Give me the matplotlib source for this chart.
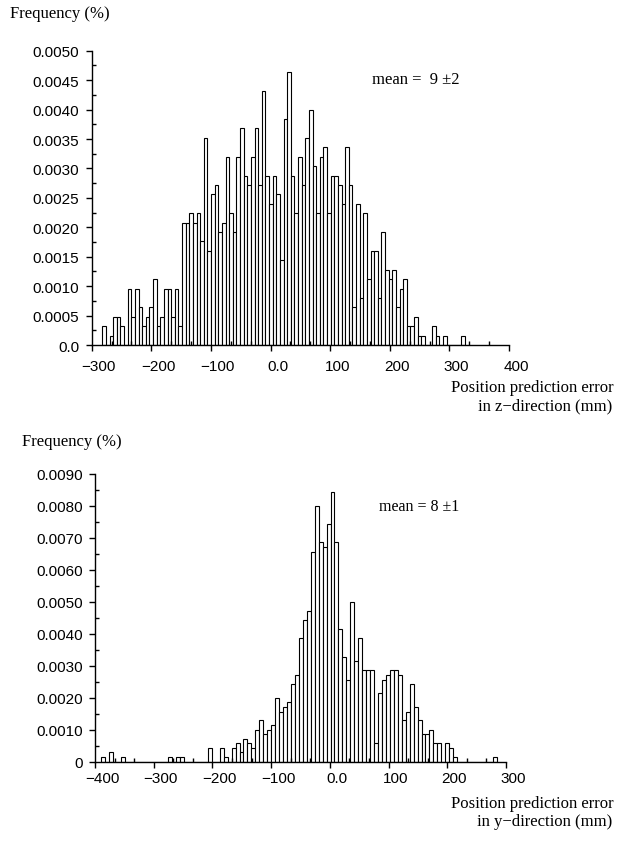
import numpy as np
import matplotlib
matplotlib.use('Agg')
import matplotlib.pyplot as plt
import matplotlib.transforms as mtransforms
from matplotlib.ticker import MultipleLocator

# z-direction error histogram: 100 bins between the min and max error (mm)
z_min, z_max = -282.2, 325.8
z_freq = [
    0.00032, 0.0, 0.00016, 0.00048, 0.00048, 0.00032, 0.0, 0.00096, 0.00048, 0.00096,
    0.00064, 0.00032, 0.00048, 0.00064, 0.00112, 0.00032, 0.00048, 0.00096, 0.00096, 0.00048,
    0.00096, 0.00032, 0.00208, 0.00208, 0.00224, 0.00208, 0.00224, 0.00176, 0.00352, 0.00160,
    0.00256, 0.00272, 0.00192, 0.00208, 0.00320, 0.00224, 0.00192, 0.00320, 0.00368, 0.00288,
    0.00272, 0.00320, 0.00368, 0.00272, 0.00432, 0.00288, 0.00240, 0.00288, 0.00256, 0.00144,
    0.00384, 0.00464, 0.00288, 0.00224, 0.00320, 0.00272, 0.00352, 0.00400, 0.00304, 0.00224,
    0.00320, 0.00336, 0.00224, 0.00288, 0.00288, 0.00272, 0.00240, 0.00336, 0.00272, 0.00064,
    0.00240, 0.00080, 0.00224, 0.00112, 0.00160, 0.00160, 0.00080, 0.00192, 0.00128, 0.00112,
    0.00128, 0.00064, 0.00096, 0.00112, 0.00032, 0.00032, 0.00048, 0.00016, 0.00016, 0.0,
    0.0, 0.00032, 0.00016, 0.0, 0.00016, 0.0, 0.0, 0.0, 0.0, 0.00016,
]

# y-direction error histogram
y_min, y_max = -389.8, 284.2
y_freq = [
    0.00014, 0.0, 0.00029, 0.0, 0.0, 0.00014, 0.0, 0.0, 0.0, 0.0,
    0.0, 0.0, 0.0, 0.0, 0.0, 0.0, 0.0, 0.00014, 0.0, 0.00014,
    0.00014, 0.0, 0.0, 0.0, 0.0, 0.0, 0.0, 0.00043, 0.0, 0.0,
    0.00043, 0.00014, 0.0, 0.00043, 0.00057, 0.00029, 0.00071, 0.00057, 0.00043, 0.00100,
    0.00129, 0.00086, 0.00100, 0.00114, 0.00200, 0.00157, 0.00171, 0.00186, 0.00243, 0.00271,
    0.00386, 0.00443, 0.00471, 0.00657, 0.00800, 0.00686, 0.00671, 0.00743, 0.00843, 0.00686,
    0.00414, 0.00329, 0.00257, 0.00500, 0.00314, 0.00386, 0.00286, 0.00286, 0.00286, 0.00057,
    0.00214, 0.00257, 0.00271, 0.00286, 0.00286, 0.00271, 0.00129, 0.00157, 0.00243, 0.00171,
    0.00129, 0.00086, 0.00086, 0.00100, 0.00057, 0.00057, 0.0, 0.00057, 0.00043, 0.00014,
    0.0, 0.0, 0.0, 0.0, 0.0, 0.0, 0.0, 0.0, 0.0, 0.00014,
]

z_xticks = [-300, -200, -100, 0, 100, 200, 300, 400]
z_xlabels = ['\u2212300', '\u2212200', '\u2212100', '0.0', '100', '200', '300', '400']
z_yticks = [0.0, 0.0005, 0.0010, 0.0015, 0.0020, 0.0025, 0.0030, 0.0035, 0.0040, 0.0045, 0.0050]
z_ylabels = ['0.0', '0.0005', '0.0010', '0.0015', '0.0020', '0.0025', '0.0030', '0.0035',
             '0.0040', '0.0045', '0.0050']

y_xticks = [-400, -300, -200, -100, 0, 100, 200, 300]
y_xlabels = ['\u2212400', '\u2212300', '\u2212200', '\u2212100', '0.0', '100', '200', '300']
y_yticks = [0.0, 0.0010, 0.0020, 0.0030, 0.0040, 0.0050, 0.0060, 0.0070, 0.0080, 0.0090]
y_ylabels = ['0', '0.0010', '0.0020', '0.0030', '0.0040', '0.0050', '0.0060', '0.0070',
             '0.0080', '0.0090']

SERIF = 'Liberation Serif'
SANS = 'Liberation Sans'


def draw_hist(ax, lo, hi, freq, xticks, xlabels, yticks, ylabels, yminor, xpad):
    edges = np.linspace(lo, hi, len(freq) + 1)
    ax.bar(edges[:-1], freq, width=edges[1] - edges[0], align='edge',
           facecolor='white', edgecolor='black', linewidth=0.8)

    ax.set_xlim(xticks[0], xticks[-1])
    ax.set_ylim(yticks[0], yticks[-1])
    for side in ('top', 'right'):
        ax.spines[side].set_visible(False)
    for side in ('left', 'bottom'):
        ax.spines[side].set_linewidth(1.0)

    ax.set_xticks(xticks)
    ax.set_xticklabels(xlabels, fontfamily=SANS, fontsize=11)
    ax.xaxis.set_minor_locator(MultipleLocator((xticks[1] - xticks[0]) / 3))
    ax.set_yticks(yticks)
    ax.set_yticklabels(ylabels, fontfamily=SANS, fontsize=11)
    ax.yaxis.set_minor_locator(MultipleLocator(yminor))

    ax.tick_params(which='major', direction='out', length=4, width=1.0, pad=5)
    ax.tick_params(axis='x', which='major', pad=xpad)
    ax.tick_params(which='minor', direction='in', length=3, width=1.0)

    # tick labels sit a little to the right of their ticks
    shift = mtransforms.ScaledTranslation(7 / 100, 0, ax.figure.dpi_scale_trans)
    for lab in ax.get_xticklabels():
        lab.set_transform(lab.get_transform() + shift)


fig = plt.figure(figsize=(6.23, 8.45), dpi=100)

ax1 = fig.add_axes([0.1472, 0.5905, 0.6698, 0.3483])
draw_hist(ax1, z_min, z_max, z_freq, z_xticks, z_xlabels, z_yticks, z_ylabels, 0.00025, 6)
ax1.text(0.672, 0.905, 'mean =  9 \u00b12', transform=ax1.transAxes,
         fontfamily=SERIF, fontsize=12, ha='left', va='center')

ax2 = fig.add_axes([0.1525, 0.0974, 0.6597, 0.3405])
draw_hist(ax2, y_min, y_max, y_freq, y_xticks, y_xlabels, y_yticks, y_ylabels, 0.0005, 2.5)
ax2.text(0.69, 0.89, 'mean = 8 \u00b11', transform=ax2.transAxes,
         fontfamily=SERIF, fontsize=11.5, ha='left', va='center')

# axis titles placed in figure coordinates
fig.text(10 / 623, 1 - 14 / 845, 'Frequency (%)', fontfamily=SERIF, fontsize=12,
         ha='left', va='center')
fig.text(0.985, 1 - 388 / 845, 'Position prediction error', fontfamily=SERIF,
         fontsize=12, ha='right', va='center')
fig.text(0.983, 1 - 406 / 845, 'in z\u2212direction (mm)', fontfamily=SERIF,
         fontsize=12, ha='right', va='center')

fig.text(22 / 623, 1 - 442 / 845, 'Frequency (%)', fontfamily=SERIF, fontsize=12,
         ha='left', va='center')
fig.text(0.985, 1 - 804 / 845, 'Position prediction error', fontfamily=SERIF,
         fontsize=12, ha='right', va='center')
fig.text(0.983, 1 - 822 / 845, 'in y\u2212direction (mm)', fontfamily=SERIF,
         fontsize=12, ha='right', va='center')

fig.savefig('out.png', dpi=100)
plt.close(fig)
